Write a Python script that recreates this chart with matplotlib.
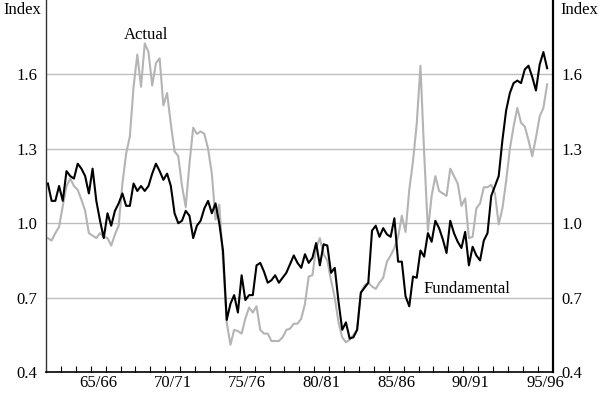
import numpy as np
import matplotlib
matplotlib.use("Agg")
import matplotlib.pyplot as plt

plt.rcParams["font.family"] = ["Liberation Serif", "DejaVu Serif"]

# Quarterly index values, first quarter of 62/63 onwards
fundamental = [
    1.16, 1.09, 1.09, 1.15, 1.09, 1.21, 1.19, 1.18, 1.24, 1.22,
    1.19, 1.12, 1.22, 1.09, 1.01, 0.94, 1.04, 0.99, 1.05, 1.08,
    1.12, 1.07, 1.07, 1.16, 1.13, 1.15, 1.13, 1.15, 1.20, 1.24,
    1.21, 1.175, 1.20, 1.15, 1.04, 1.00, 1.01, 1.05, 1.03, 0.94,
    0.99, 1.01, 1.06, 1.09, 1.04, 1.08, 1.00, 0.89, 0.61, 0.675,
    0.71, 0.64, 0.79, 0.69, 0.71, 0.71, 0.83, 0.84, 0.805, 0.76,
    0.77, 0.79, 0.76, 0.78, 0.80, 0.835, 0.87, 0.84, 0.82, 0.875,
    0.84, 0.86, 0.92, 0.83, 0.915, 0.91, 0.80, 0.82, 0.685, 0.57,
    0.60, 0.535, 0.54, 0.57, 0.72, 0.74, 0.76, 0.97, 0.99, 0.945,
    0.98, 0.955, 0.945, 1.02, 0.845, 0.845, 0.705, 0.665, 0.785, 0.78,
    0.89, 0.865, 0.96, 0.925, 1.01, 0.98, 0.935, 0.88, 1.01, 0.96,
    0.925, 0.90, 0.965, 0.83, 0.905, 0.87, 0.85, 0.93, 0.96, 1.11,
    1.15, 1.19, 1.335, 1.455, 1.525, 1.565, 1.575, 1.565, 1.62, 1.635,
    1.59, 1.535, 1.64, 1.69, 1.625,
]

actual = [
    0.94, 0.93, 0.96, 0.985, 1.07, 1.15, 1.18, 1.15, 1.135, 1.095,
    1.05, 0.96, 0.95, 0.94, 0.96, 0.945, 0.94, 0.91, 0.955, 0.99,
    1.16, 1.28, 1.35, 1.55, 1.68, 1.55, 1.725, 1.69, 1.555, 1.645,
    1.665, 1.475, 1.525, 1.40, 1.29, 1.27, 1.15, 1.065, 1.24, 1.385,
    1.36, 1.37, 1.36, 1.30, 1.20, 1.015, 1.075, 0.85, 0.60, 0.51,
    0.57, 0.565, 0.555, 0.615, 0.66, 0.64, 0.665, 0.57, 0.555, 0.555,
    0.525, 0.525, 0.525, 0.54, 0.57, 0.575, 0.595, 0.595, 0.615, 0.675,
    0.785, 0.79, 0.90, 0.94, 0.875, 0.85, 0.77, 0.70, 0.60, 0.54,
    0.52, 0.53, 0.55, 0.57, 0.72, 0.75, 0.76, 0.745, 0.735, 0.76,
    0.78, 0.845, 0.87, 0.90, 0.945, 1.03, 0.965, 1.135, 1.25, 1.40,
    1.635, 1.28, 0.97, 1.11, 1.19, 1.13, 1.12, 1.11, 1.22, 1.19,
    1.16, 1.07, 1.10, 0.94, 0.945, 1.06, 1.08, 1.145, 1.145, 1.155,
    1.12, 0.995, 1.06, 1.17, 1.30, 1.39, 1.465, 1.405, 1.39, 1.335,
    1.27, 1.345, 1.43, 1.465, 1.56,
]

year_labels = ["65/66", "70/71", "75/76", "80/81", "85/86", "90/91", "95/96"]
label_years = [3, 8, 13, 18, 23, 28, 33]   # years after 62/63
n_years = 34
y_ticks = [0.4, 0.7, 1.0, 1.3, 1.6]

quarter = np.arange(len(fundamental))
x = (quarter + 0.5) / 4

fig = plt.figure(figsize=(6, 3.93), dpi=100)
ax = fig.add_axes([0.0767, 0.0534, 0.8445, 0.9466])

for yv in y_ticks[1:]:
    ax.axhline(yv, color="#bdbdbd", linewidth=1.0, zorder=1)

ax.plot(x, actual, color="#b4b4b4", linewidth=1.5, zorder=2)
ax.plot(x, fundamental, color="black", linewidth=1.5, zorder=3)

ax.set_xlim(0, n_years)
ax.set_ylim(0.4, 1.9)

# year labels centred on each financial year, ticks at year boundaries
ax.set_xticks([y + 0.5 for y in label_years])
ax.set_xticklabels(year_labels, fontsize=12)
ax.set_xticks(np.arange(1, n_years), minor=True)
ax.tick_params(axis="x", which="major", length=0, pad=2.5)
ax.tick_params(axis="x", which="minor", direction="in", length=4, width=0.8)

ax.set_yticks(y_ticks)
ax.set_yticklabels([f"{v:.1f}" for v in y_ticks], fontsize=12)
ax.tick_params(axis="y", length=0, pad=6, labelright=True, right=False)

ax.spines["top"].set_visible(False)
ax.spines["left"].set_linewidth(1.0)
ax.spines["left"].set_color("#333333")
ax.spines["right"].set_linewidth(1.6)
ax.spines["bottom"].set_linewidth(1.2)

ax.text(6.7, 1.76, "Actual", fontsize=12, ha="center", va="center")
ax.text(28.25, 0.735, "Fundamental", fontsize=12, ha="center", va="center")

fig.text(0.005, 0.975, "Index", fontsize=12, ha="left", va="center")
fig.text(0.997, 0.975, "Index", fontsize=12, ha="right", va="center")

fig.savefig("out.png", dpi=100)
